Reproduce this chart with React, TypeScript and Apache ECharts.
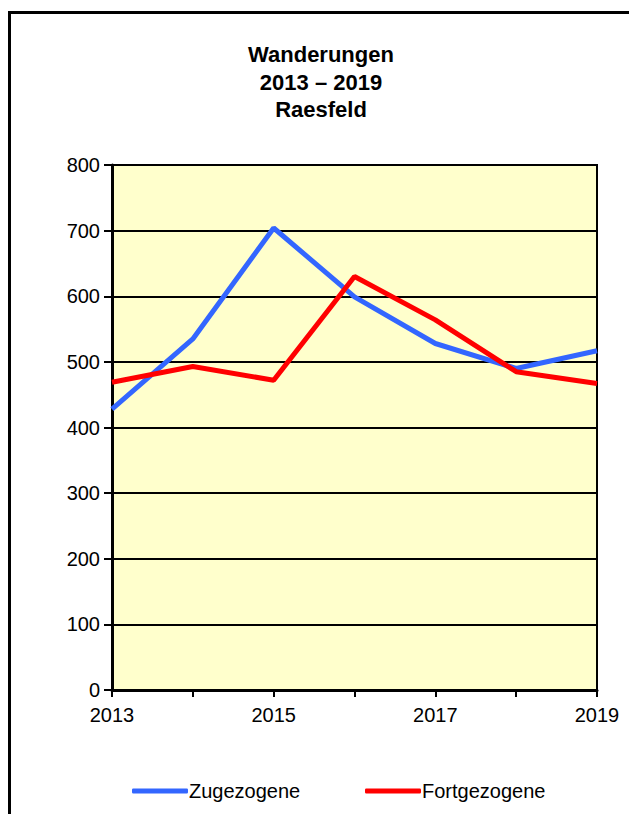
import React, { useEffect, useRef } from "react";
import * as echarts from "echarts";

const years = ["2013", "2014", "2015", "2016", "2017", "2018", "2019"];
const zugezogene = [428, 535, 704, 599, 528, 490, 517];
const fortgezogene = [469, 493, 472, 630, 564, 485, 467];
const titleLines = ["Wanderungen", "2013 – 2019", "Raesfeld"];
const seriesNames = ["Zugezogene", "Fortgezogene"];

const FONT = "'Liberation Sans', Arial, sans-serif";

export default function App() {
  const ref = useRef<HTMLDivElement>(null);
  useEffect(() => {
    if (!ref.current) return;
    const chart = echarts.init(ref.current, null, { renderer: "svg" });
    chart.setOption({
      animation: false,
      backgroundColor: "#ffffff",
      textStyle: { fontFamily: FONT },
      graphic: [
        {
          type: "rect",
          z: -10,
          silent: true,
          shape: { x: 9.5, y: 12.5, width: 700, height: 900 },
          style: { fill: "none", stroke: "#000", lineWidth: 3 },
        },
        {
          type: "text",
          silent: true,
          x: 321,
          y: 41,
          style: {
            text: titleLines.join("\n"),
            fontFamily: FONT,
            fontSize: 22,
            fontWeight: "bold",
            lineHeight: 27.5,
            align: "center",
            verticalAlign: "top",
            fill: "#000",
          },
        },
      ],
      grid: {
        left: 112,
        right: 32,
        top: 165,
        bottom: 124,
        show: true,
        backgroundColor: "#FFFFCC",
        borderColor: "#000",
        borderWidth: 2,
      },
      legend: [
        {
          data: [seriesNames[0]],
          left: 127,
          top: 776,
          itemWidth: 56,
          itemHeight: 5,
          icon: "roundRect",
          textStyle: { fontSize: 20, color: "#000", fontFamily: FONT, padding: [0, 0, 0, -4] },
        },
        {
          data: [seriesNames[1]],
          left: 360,
          top: 776,
          itemWidth: 56,
          itemHeight: 5,
          icon: "roundRect",
          textStyle: { fontSize: 20, color: "#000", fontFamily: FONT, padding: [0, 0, 0, -4] },
        },
      ],
      xAxis: {
        type: "category",
        data: years,
        boundaryGap: false,
        axisLine: { show: true, lineStyle: { color: "#000", width: 3 } },
        axisTick: {
          show: true,
          interval: 0,
          length: 7,
          lineStyle: { color: "#000", width: 2 },
        },
        axisLabel: {
          interval: 1,
          margin: 15,
          fontSize: 20,
          color: "#000",
          fontFamily: FONT,
        },
        splitLine: { show: false },
      },
      yAxis: {
        type: "value",
        min: 0,
        max: 800,
        interval: 100,
        axisLine: { show: true, lineStyle: { color: "#000", width: 3 } },
        axisTick: {
          show: true,
          length: 8,
          lineStyle: { color: "#000", width: 2 },
        },
        axisLabel: {
          margin: 12,
          fontSize: 20,
          color: "#000",
          fontFamily: FONT,
        },
        splitLine: { show: true, lineStyle: { color: "#000", width: 2 } },
      },
      series: [
        {
          name: seriesNames[0],
          type: "line",
          data: zugezogene,
          symbol: "none",
          color: "#3366FF",
          lineStyle: { color: "#3366FF", width: 5 },
        },
        {
          name: seriesNames[1],
          type: "line",
          data: fortgezogene,
          symbol: "none",
          color: "#FF0000",
          lineStyle: { color: "#FF0000", width: 5 },
        },
      ],
    });
    return () => chart.dispose();
  }, []);
  return (
    <div
      ref={ref}
      style={{ position: "absolute", left: 0, top: 0, width: 629, height: 814 }}
    />
  );
}
